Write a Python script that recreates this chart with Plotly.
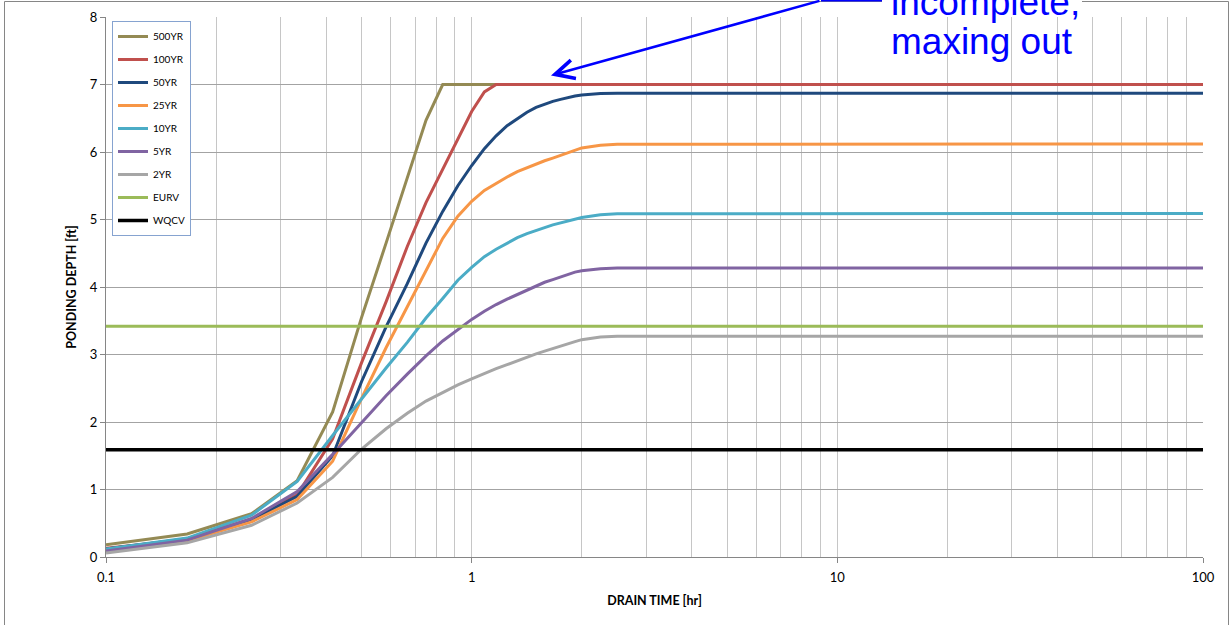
import plotly.graph_objects as go

# Drain time (hours) at 5-minute steps through the rising limb, then flat to 100 hr
drain_time_hr = [0.1, 0.1667, 0.25, 0.3333, 0.4167, 0.5, 0.5833, 0.6667, 0.75, 0.8333,
                 0.9167, 1.0, 1.0833, 1.1667, 1.25, 1.3333, 1.4167, 1.5, 1.5833, 1.6667,
                 1.75, 1.8333, 1.9167, 2.0, 2.25, 2.5, 100]

# Ponding depth (ft) for each design storm
depth_500yr = [0.18, 0.34, 0.64, 1.13, 2.15, 3.55, 4.65, 5.60, 6.47, 7.00,
               7.00, 7.00, 7.00, 7.00, 7.00, 7.00, 7.00, 7.00, 7.00, 7.00,
               7.00, 7.00, 7.00, 7.00, 7.00, 7.00, 7.00]
depth_100yr = [0.13, 0.26, 0.56, 0.92, 1.75, 2.88, 3.78, 4.60, 5.25, 5.75,
               6.20, 6.60, 6.89, 7.00, 7.00, 7.00, 7.00, 7.00, 7.00, 7.00,
               7.00, 7.00, 7.00, 7.00, 7.00, 7.00, 7.00]
depth_50yr = [0.12, 0.27, 0.55, 0.90, 1.50, 2.60, 3.41, 4.05, 4.65, 5.12,
              5.50, 5.80, 6.05, 6.24, 6.39, 6.50, 6.59, 6.66, 6.71, 6.75,
              6.78, 6.81, 6.83, 6.845, 6.865, 6.87, 6.87]
depth_25yr = [0.10, 0.24, 0.52, 0.85, 1.42, 2.35, 3.10, 3.70, 4.25, 4.72,
              5.05, 5.27, 5.43, 5.54, 5.63, 5.71, 5.77, 5.82, 5.87, 5.91,
              5.95, 5.99, 6.03, 6.06, 6.10, 6.115, 6.12]
depth_10yr = [0.12, 0.28, 0.62, 1.12, 1.80, 2.35, 2.80, 3.18, 3.54, 3.83,
              4.10, 4.29, 4.45, 4.56, 4.65, 4.73, 4.79, 4.84, 4.88, 4.92,
              4.95, 4.98, 5.01, 5.03, 5.07, 5.085, 5.09]
depth_5yr = [0.09, 0.25, 0.57, 0.97, 1.52, 2.00, 2.39, 2.71, 2.98, 3.20,
             3.37, 3.52, 3.64, 3.74, 3.82, 3.89, 3.96, 4.02, 4.07, 4.11,
             4.15, 4.19, 4.22, 4.24, 4.27, 4.28, 4.28]
depth_2yr = [0.06, 0.21, 0.47, 0.80, 1.18, 1.60, 1.90, 2.13, 2.31, 2.44,
             2.55, 2.64, 2.72, 2.79, 2.85, 2.91, 2.96, 3.01, 3.05, 3.09,
             3.13, 3.16, 3.19, 3.22, 3.26, 3.27, 3.27]

# Constant reference depths
level_x = [0.1, 100]
eurv_depth = 3.42
wqcv_depth = 1.59

x_tick_vals = [0.1, 1, 10, 100]
x_tick_text = ["0.1", "1", "10", "100"]
x_minor_grid = [m * 10 ** e for e in range(-1, 2) for m in range(2, 10)]

series = [
    ("500YR", depth_500yr, "#948A54"),
    ("100YR", depth_100yr, "#C0504D"),
    ("50YR", depth_50yr, "#1F497D"),
    ("25YR", depth_25yr, "#F79646"),
    ("10YR", depth_10yr, "#4BACC6"),
    ("5YR", depth_5yr, "#8064A2"),
    ("2YR", depth_2yr, "#A6A6A6"),
]

fig = go.Figure()
for name, ys, color in series:
    fig.add_trace(go.Scatter(x=drain_time_hr, y=ys, mode="lines", name=name,
                             legendgroup=name, line=dict(color=color, width=3)))

fig.add_trace(go.Scatter(x=level_x, y=[eurv_depth] * len(level_x), mode="lines",
                         name="EURV", legendgroup="EURV",
                         line=dict(color="#9BBB59", width=3)))
fig.add_trace(go.Scatter(x=level_x, y=[wqcv_depth] * len(level_x), mode="lines",
                         name="WQCV", legendgroup="WQCV",
                         line=dict(color="#000000", width=3.5)))

W, H = 1231, 625
L, R, T, B = 106, 28, 17, 68
pw, ph = W - L - R, H - T - B


def px_x(px):
    return (px - L) / pw


def px_y(py):
    return (H - B - py) / ph


tick_font = dict(family="Lato", size=13, color="#000000")
title_font = dict(family="Lato", size=12.5, color="#000000")

fig.update_layout(
    width=W, height=H,
    margin=dict(l=L, r=R, t=T, b=B, pad=0, autoexpand=False),
    paper_bgcolor="white", plot_bgcolor="white",
    showlegend=True,
    legend=dict(x=px_x(112), y=px_y(21), xanchor="left", yanchor="top",
                bordercolor="#86A3D0", borderwidth=1, bgcolor="white",
                font=dict(family="Lato", size=10, color="#000000"),
                tracegroupgap=4, traceorder="grouped"),
    xaxis=dict(type="log", range=[-1, 2], tickvals=x_tick_vals, ticktext=x_tick_text,
               ticks="outside", ticklen=5, tickcolor="#868686",
               showline=True, linecolor="#868686", linewidth=1,
               showgrid=True, gridcolor="#C6C6C6", gridwidth=1,
               minor=dict(tickvals=x_minor_grid, showgrid=True, gridcolor="#C6C6C6",
                          gridwidth=1, ticks=""),
               tickfont=tick_font, zeroline=False, automargin=False,
               ticklabelstandoff=3,
               title=dict(text="<b>DRAIN TIME [hr]</b>", font=title_font, standoff=12)),
    yaxis=dict(range=[0, 8], tick0=0, dtick=1,
               ticks="outside", ticklen=5, tickcolor="#868686",
               showline=True, linecolor="#868686", linewidth=1,
               showgrid=True, gridcolor="#A3A3A3", gridwidth=1,
               tickfont=tick_font, zeroline=False, automargin=False,
               title=dict(text="<b>PONDING DEPTH [ft]</b>", font=title_font, standoff=10)),
)

# Outer chart frame
fig.add_shape(type="rect", xref="paper", yref="paper",
              x0=px_x(4.5), x1=px_x(1228.5), y0=-0.3, y1=px_y(1.5),
              line=dict(color="#868686", width=1), fillcolor="rgba(0,0,0,0)", layer="above")
# Frame gap behind the callout text
fig.add_shape(type="rect", xref="paper", yref="paper",
              x0=px_x(882), x1=px_x(1082), y0=px_y(4), y1=px_y(-5),
              line=dict(width=0), fillcolor="white", layer="above")
# Callout leader: short horizontal run before the arrow
fig.add_shape(type="line", xref="paper", yref="paper",
              x0=px_x(821), x1=px_x(882), y0=px_y(0.5), y1=px_y(0.5),
              line=dict(color="#0000FF", width=2), layer="above")

callout_font = dict(family="Liberation Sans", size=37, color="#0000FF")
fig.add_annotation(xref="paper", yref="paper", x=px_x(551), y=px_y(75.5),
                   text="", showarrow=True, axref="pixel", ayref="pixel",
                   ax=270, ay=-75, arrowhead=5, arrowsize=1.5, arrowwidth=2.5,
                   arrowcolor="#0000FF")
fig.add_annotation(xref="paper", yref="paper", x=px_x(889), y=px_y(2.5),
                   text="incomplete,", showarrow=False, xanchor="left", yanchor="middle",
                   font=callout_font)
fig.add_annotation(xref="paper", yref="paper", x=px_x(889), y=px_y(42),
                   text="maxing out", showarrow=False, xanchor="left", yanchor="middle",
                   font=callout_font)

fig.write_html("out.html")
